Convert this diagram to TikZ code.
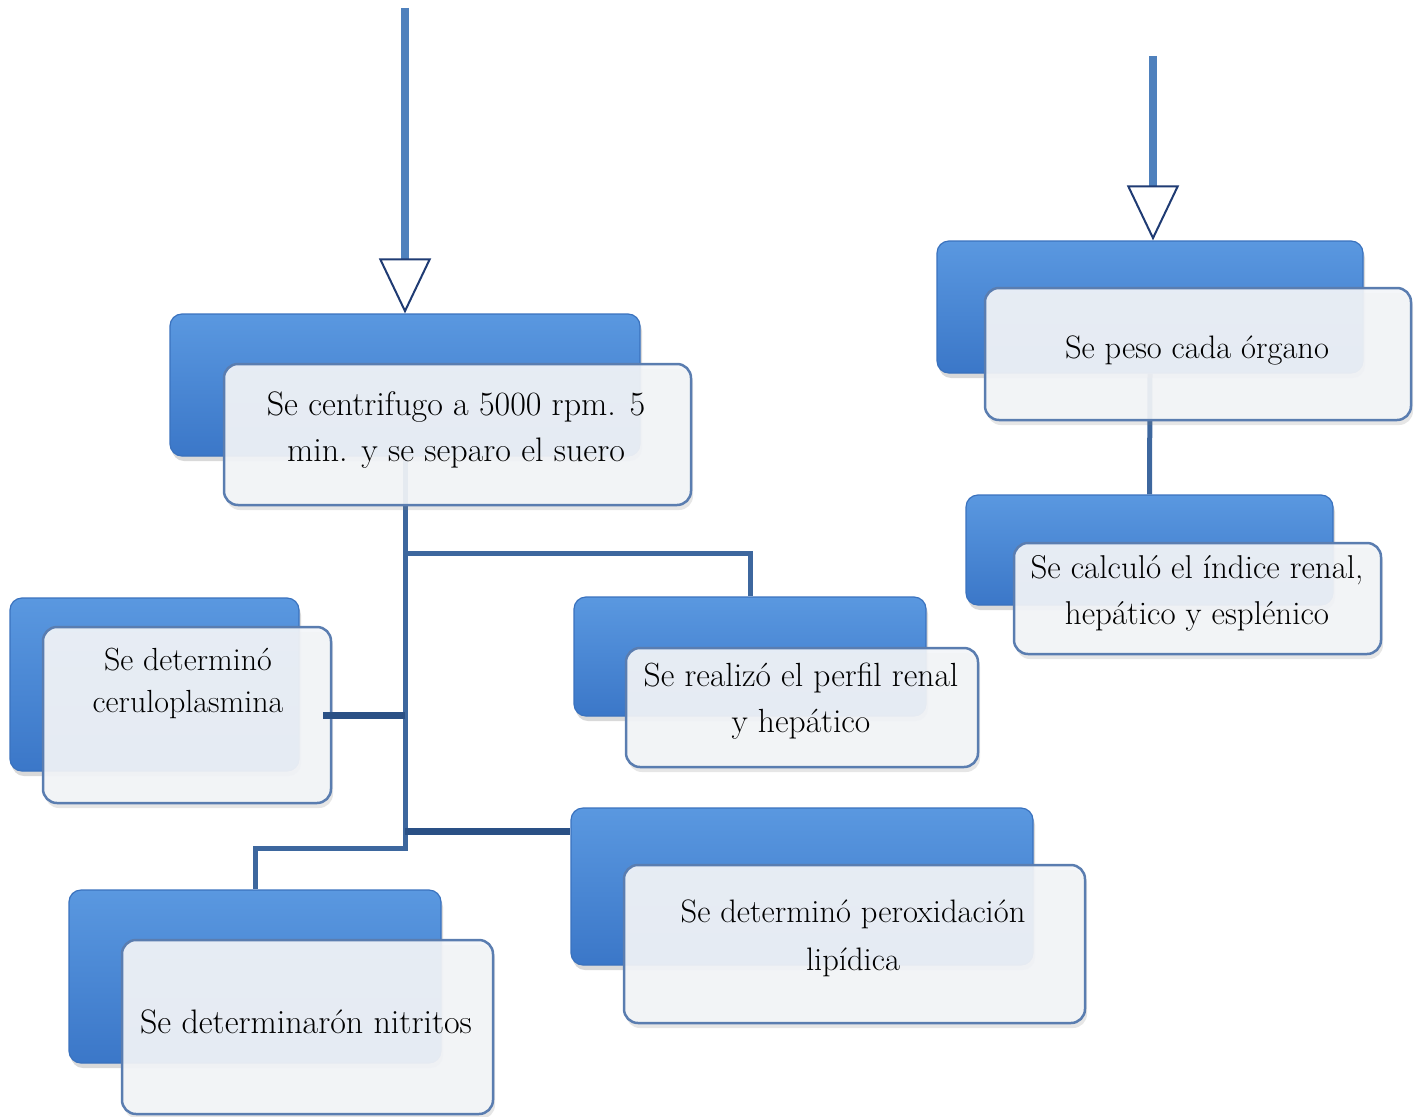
\documentclass[tikz,border=0pt]{standalone}
\usetikzlibrary{arrows.meta,calc,shadows,backgrounds}
\definecolor{azulclaro}{HTML}{5A98E0}
\definecolor{azuloscuro}{HTML}{3B77C8}
\definecolor{bordeazul}{HTML}{3A72BE}
\definecolor{grisfrente}{HTML}{F3F5F8}
\definecolor{bordegris}{HTML}{5A7DB0}
\definecolor{flechaazul}{HTML}{4F81BD}
\definecolor{puntaazul}{HTML}{1F3B73}
\definecolor{ramaazul}{HTML}{3D679E}
\definecolor{ramaosc}{HTML}{2A5085}
\begin{document}
\begin{tikzpicture}[x=1pt, y=-1pt, line join=round,
	fondo/.style={draw=bordeazul, line width=1.2pt, rounded corners=12pt, top color=azulclaro, bottom color=azuloscuro,
		drop shadow={opacity=.3, shadow xshift=2pt, shadow yshift=-5pt}},
	frente/.style={draw=bordegris, line width=2.5pt, rounded corners=14pt, fill=grisfrente, fill opacity=.92, draw opacity=1,
		drop shadow={opacity=.2, shadow xshift=2pt, shadow yshift=-5pt}},
	txt/.style={font=\fontsize{33.5}{46}\selectfont, align=center, text=black},
	rama/.style={draw=ramaazul, line width=5pt},
	grueso/.style={draw=ramaosc, line width=7pt},
	flecha/.style={draw=flechaazul, line width=8pt, -{Triangle[length=55pt, width=52pt, fill=white, color=puntaazul, line width=2pt]}}]
	\useasboundingbox (0,0) rectangle (1421,1116);
	\coordinate (iniA) at (405,8);
	\coordinate (iniB) at (1153,56);
	% cajas
	\node[fondo, minimum width=470, minimum height=142] (Ab) at (405,385) {};
	\node[frente, minimum width=467, minimum height=141] (Af) at (457.5,434.5) {};
	\node[txt, font=\fontsize{34}{46}\selectfont] (At) at (456,430) {Se centrifugo a 5000 rpm. 5\\min. y se separo el suero};
	\node[fondo, minimum width=426, minimum height=132] (Bb) at (1150,307) {};
	\node[frente, minimum width=426, minimum height=132] (Bf) at (1198,354) {};
	\node[txt, font=\fontsize{32.5}{46}\selectfont] (Bt) at (1197,350) {Se peso cada órgano};
	\node[fondo, minimum width=367, minimum height=110] (Cb) at (1149.5,550) {};
	\node[frente, minimum width=367, minimum height=111] (Cf) at (1197.5,598.5) {};
	\node[txt, font=\fontsize{33}{46}\selectfont] (Ct) at (1197,593) {Se calculó el índice renal,\\hepático y esplénico};
	\node[fondo, minimum width=289, minimum height=173] (Db) at (154.5,684.5) {};
	\node[frente, minimum width=288, minimum height=176] (Df) at (187,715) {};
	\node[txt, font=\fontsize{32}{42}\selectfont] (Dt) at (188,683) {Se determinó\\ceruloplasmina};
	\node[fondo, minimum width=352, minimum height=119] (Eb) at (750,656.5) {};
	\node[frente, minimum width=352, minimum height=119] (Ef) at (802,707.5) {};
	\node[txt] (Et) at (801,701) {Se realizó el perfil renal\\y hepático};
	\node[fondo, minimum width=462, minimum height=157] (Fb) at (802,886.5) {};
	\node[frente, minimum width=461, minimum height=158] (Ff) at (854.5,944) {};
	\node[txt, font=\fontsize{32.5}{48}\selectfont] (Ft) at (853,938) {Se determinó peroxidación\\lipídica};
	\node[fondo, minimum width=372, minimum height=173] (Gb) at (255,976.5) {};
	\node[frente, minimum width=371, minimum height=174] (Gf) at (307.5,1027) {};
	\node[txt, font=\fontsize{34}{46}\selectfont] (Gt) at (306,1022) {Se determinarón nitritos};
	% conectores
	\coordinate (jE) at (405,553);
	\coordinate (finT) at (405,848);
	\coordinate (puntoF) at ($(Fb.north west)!.15!(Fb.south west)$);
	\begin{scope}[on background layer]
		\draw[rama] (Ab.south) -- (finT) -| (Gb.north);
		\draw[rama] (jE) -| (Eb.north);
		\draw[grueso] (Ab.south |- puntoF) -- (puntoF);
		\draw[rama] (Bb.south) -- (Cb.north);
	\end{scope}
	\draw[grueso] (Ab.south |- Df.east) -- ($(Df.east)+(-9,0)$);
	\draw[flecha] (iniA) -- (Ab.north);
	\draw[flecha] (iniB) -- (iniB |- Bb.north);
\end{tikzpicture}
\end{document}
